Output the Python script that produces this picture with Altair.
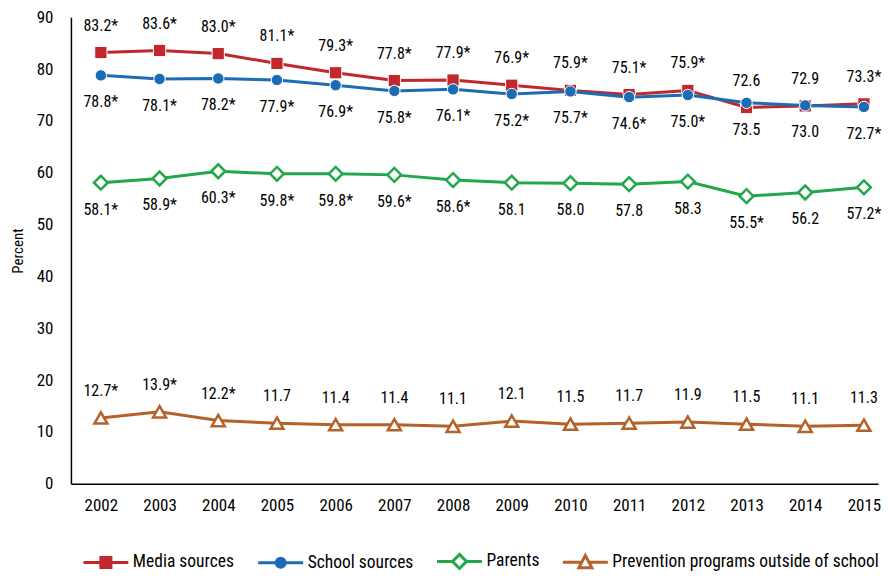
import altair as alt
import pandas as pd

years = list(range(2002, 2016))
series_names = ["Media sources", "School sources", "Parents",
                "Prevention programs outside of school"]

media = [83.2, 83.6, 83.0, 81.1, 79.3, 77.8, 77.9, 76.9, 75.9, 75.1, 75.9, 72.6, 72.9, 73.3]
school = [78.8, 78.1, 78.2, 77.9, 76.9, 75.8, 76.1, 75.2, 75.7, 74.6, 75.0, 73.5, 73.0, 72.7]
parents = [58.1, 58.9, 60.3, 59.8, 59.8, 59.6, 58.6, 58.1, 58.0, 57.8, 58.3, 55.5, 56.2, 57.2]
prevention = [12.7, 13.9, 12.2, 11.7, 11.4, 11.4, 11.1, 12.1, 11.5, 11.7, 11.9, 11.5, 11.1, 11.3]

media_sig = [1, 1, 1, 1, 1, 1, 1, 1, 1, 1, 1, 0, 0, 1]
school_sig = [1, 1, 1, 1, 1, 1, 1, 1, 1, 1, 1, 0, 0, 1]
parents_sig = [1, 1, 1, 1, 1, 1, 1, 0, 0, 0, 0, 1, 0, 1]
prevention_sig = [1, 1, 1, 0, 0, 0, 0, 0, 0, 0, 0, 0, 0, 0]

label_side = ["above", "below", "below", "above"]

colors = ["#C1272D", "#1C6BB5", "#22A84A", "#B5622A"]
legend_fills = ["#C1272D", "#1C6BB5", "#FFFFFF", "#FFFFFF"]
marker_shapes = ["square", "circle", "diamond", "triangle-up"]
# legend glyphs: line with marker (units of 9px, line drawn from -4 to 1)
legend_paths = [
    "M-4,0H1M-2.06,-0.56H-0.94V0.56H-2.06Z",
    "M-4,0H1M-1,0A0.5,0.5 0 1,1 -2,0A0.5,0.5 0 1,1 -1,0Z",
    "M-4,0H-2.28M-0.72,0H1M-1.5,-0.78L-0.72,0L-1.5,0.78L-2.28,0Z",
    "M-4,0H-1.9M-1.1,0H1M-1.5,-0.75L-0.78,0.6L-2.22,0.6Z",
]

FONT = "Roboto Condensed, Liberation Sans, sans-serif"

rows = []
for name, vals, sig, side in zip(series_names, [media, school, parents, prevention],
                                 [media_sig, school_sig, parents_sig, prevention_sig],
                                 label_side):
    for y, v, s in zip(years, vals, sig):
        rows.append({"year": y, "value": v, "series": name,
                     "label": f"{v:.1f}" + ("*" if s else ""), "side": side})
df = pd.DataFrame(rows)

xscale = alt.Scale(domain=[2001.49, 2015.24], nice=False, zero=False)
yscale = alt.Scale(domain=[0, 90], nice=False)
color_scale = alt.Scale(domain=series_names, range=colors)

X = alt.X("year:Q", scale=xscale, title=None,
          axis=alt.Axis(values=years, format="d", ticks=False, grid=False,
                        labelPadding=14, domainColor="black", domainWidth=1.5,
                        labelFont=FONT, labelFontSize=17, labelColor="black"))
Y = alt.Y("value:Q", scale=yscale, title="Percent",
          axis=alt.Axis(values=list(range(0, 91, 10)), ticks=False, grid=False,
                        labelPadding=18, domainColor="black", domainWidth=1.5,
                        labelFont=FONT, labelFontSize=17, labelColor="black",
                        titleFont=FONT, titleFontSize=15, titleFontWeight="normal",
                        titleColor="black", titlePadding=11))

base = alt.Chart(df)
layers = []
for i, name in enumerate(series_names):
    sub = base.transform_filter(alt.datum.series == name)
    layers.append(sub.mark_line(strokeWidth=3, color=colors[i]).encode(x=X, y=Y))
    if i < 2:
        pt = sub.mark_point(shape=marker_shapes[i], filled=True, fill=colors[i],
                            stroke="white", strokeWidth=1, opacity=1,
                            size=150 if i == 0 else 130)
    else:
        pt = sub.mark_point(shape=marker_shapes[i], fill="white", stroke=colors[i],
                            strokeWidth=2.5, opacity=1,
                            size=190 if i == 2 else 170)
    layers.append(pt.encode(x=X, y=Y))

above = base.transform_filter(alt.datum.side == "above").mark_text(
    dy=-27, font=FONT, fontSize=16, color="black").encode(x=X, y=Y, text="label:N")
below = base.transform_filter(alt.datum.side == "below").mark_text(
    dy=27, font=FONT, fontSize=16, color="black").encode(x=X, y=Y, text="label:N")

legend_layer = base.transform_filter("false").mark_point(opacity=1, strokeWidth=3).encode(
    x=X, y=Y,
    color=alt.Color("series:N", scale=color_scale, legend=alt.Legend(title=None)),
    fill=alt.Fill("series:N", scale=alt.Scale(domain=series_names, range=legend_fills),
                  legend=alt.Legend(title=None)),
    shape=alt.Shape("series:N", scale=alt.Scale(domain=series_names, range=legend_paths),
                    legend=alt.Legend(title=None)),
)

chart = alt.layer(*layers, above, below, legend_layer).properties(
    width=808, height=467, padding={"left": 2, "top": 0, "right": 0, "bottom": 0}
).configure_view(stroke=None).configure_legend(
    orient="none", legendX=38, legendY=534, direction="horizontal",
    labelFont=FONT, labelFontSize=17.5, labelColor="black",
    symbolSize=324, symbolStrokeWidth=3, columnPadding=17,
    labelLimit=0, symbolOpacity=1, labelOffset=3, padding=0
)

chart.save("out.html", embed_options={"renderer": "svg", "actions": False})
